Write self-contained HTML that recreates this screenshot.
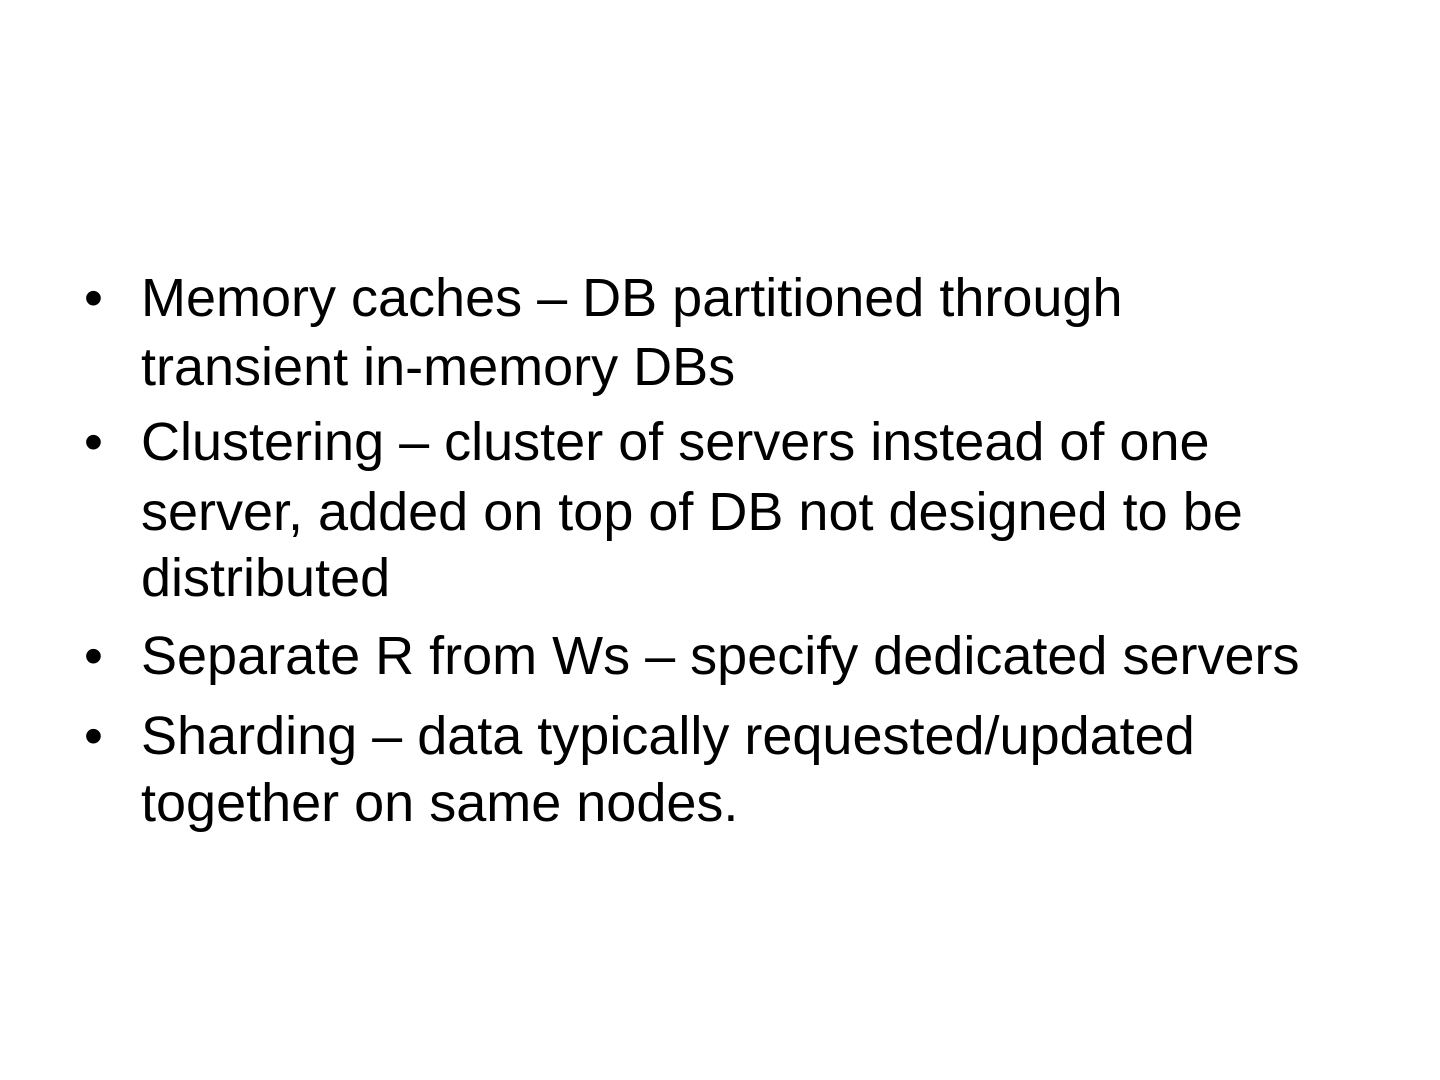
<!DOCTYPE html>
<html><head><style>
body{margin:0;width:1440px;height:1080px;background:#fff;position:relative;overflow:hidden;font-family:"Liberation Sans",sans-serif;color:#000}
.l{position:absolute;left:141px;font-size:54px;line-height:54px;white-space:nowrap}
.b{position:absolute;left:84px;font-size:54px;line-height:54px}
</style></head><body>
<div class="b" style="top:271px">•</div>
<div class="l" style="top:271px">Memory caches – DB partitioned through</div>
<div class="l" style="top:340px">transient in-memory DBs</div>
<div class="b" style="top:415px">•</div>
<div class="l" style="top:415px">Clustering – cluster of servers instead of one</div>
<div class="l" style="top:485px">server, added on top of DB not designed to be</div>
<div class="l" style="top:551px">distributed</div>
<div class="b" style="top:629px">•</div>
<div class="l" style="top:629px">Separate R from Ws – specify dedicated servers</div>
<div class="b" style="top:709px">•</div>
<div class="l" style="top:709px">Sharding – data typically requested/updated</div>
<div class="l" style="top:776px">together on same nodes.</div>
</body></html>
